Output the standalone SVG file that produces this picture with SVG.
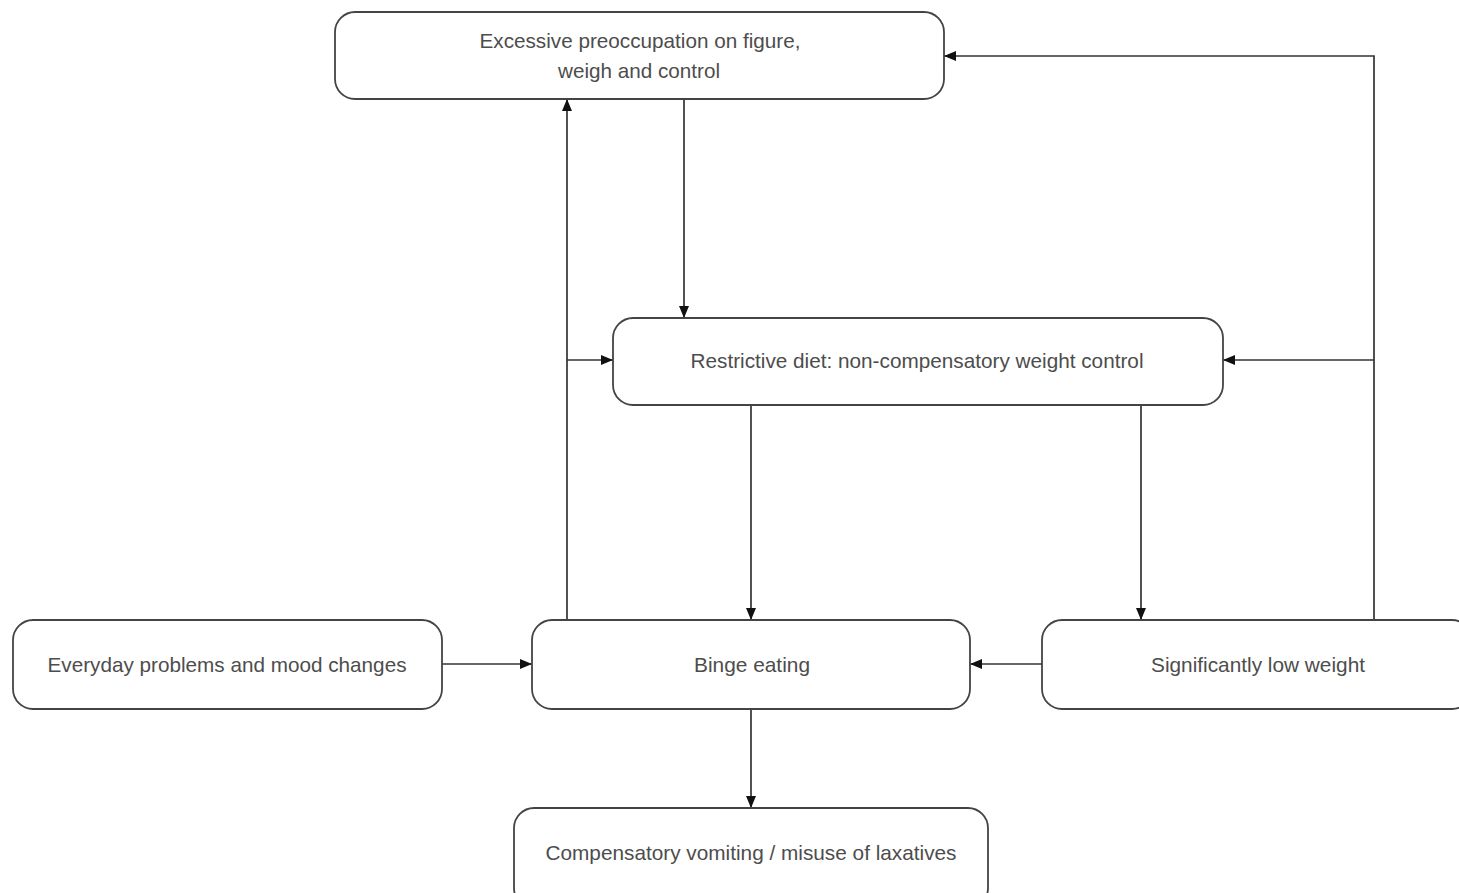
<svg xmlns="http://www.w3.org/2000/svg" width="1459" height="893" viewBox="0 0 1459 893">
<style>
.box{fill:#fff;stroke:#444;stroke-width:1.8}
.lbl{font-family:"Liberation Sans",Arial,sans-serif;font-size:21px;fill:#4d4d4d;text-anchor:middle;dominant-baseline:central}
.edge{fill:none;stroke:#333;stroke-width:1.7}
</style>
<defs>
<marker id="arr" viewBox="0 0 12 10" refX="12" refY="5" markerWidth="12" markerHeight="10" markerUnits="userSpaceOnUse" orient="auto">
<path d="M0,0 L12,5 L0,10 z" fill="#111"/>
</marker>
</defs>
<rect width="1459" height="893" fill="#fff"/>
<g id="connectors">
<path class="edge" d="M684,99 V318" marker-end="url(#arr)"/>
<path class="edge" d="M567,620 V99" marker-end="url(#arr)"/>
<path class="edge" d="M567,360 H613" marker-end="url(#arr)"/>
<path class="edge" d="M751,405 V620" marker-end="url(#arr)"/>
<path class="edge" d="M1141,405 V620" marker-end="url(#arr)"/>
<path class="edge" d="M1374,620 V56 H944" marker-end="url(#arr)"/>
<path class="edge" d="M1374,360 H1223" marker-end="url(#arr)"/>
<path class="edge" d="M442,664 H532" marker-end="url(#arr)"/>
<path class="edge" d="M1042,664 H970" marker-end="url(#arr)"/>
<path class="edge" d="M751,709 V808" marker-end="url(#arr)"/>
</g>
<g id="node-preoccupation">
<rect class="box" x="335" y="12" width="609" height="87" rx="20"/>
<text class="lbl" x="640" y="40" textLength="321" lengthAdjust="spacingAndGlyphs">Excessive preoccupation on figure,</text>
<text class="lbl" x="639" y="70" textLength="162" lengthAdjust="spacingAndGlyphs">weigh and control</text>
</g>
<g id="node-restrictive">
<rect class="box" x="613" y="318" width="610" height="87" rx="20"/>
<text class="lbl" x="917" y="360" textLength="453" lengthAdjust="spacingAndGlyphs">Restrictive diet: non-compensatory weight control</text>
</g>
<g id="node-everyday">
<rect class="box" x="13" y="620" width="429" height="89" rx="20"/>
<text class="lbl" x="227" y="664" textLength="359" lengthAdjust="spacingAndGlyphs">Everyday problems and mood changes</text>
</g>
<g id="node-binge">
<rect class="box" x="532" y="620" width="438" height="89" rx="20"/>
<text class="lbl" x="752" y="664" textLength="116" lengthAdjust="spacingAndGlyphs">Binge eating</text>
</g>
<g id="node-lowweight">
<rect class="box" x="1042" y="620" width="430" height="89" rx="20"/>
<text class="lbl" x="1258" y="664" textLength="214" lengthAdjust="spacingAndGlyphs">Significantly low weight</text>
</g>
<g id="node-compensatory">
<rect class="box" x="514" y="808" width="474" height="100" rx="20"/>
<text class="lbl" x="751" y="852" textLength="411" lengthAdjust="spacingAndGlyphs">Compensatory vomiting / misuse of laxatives</text>
</g>
</svg>
